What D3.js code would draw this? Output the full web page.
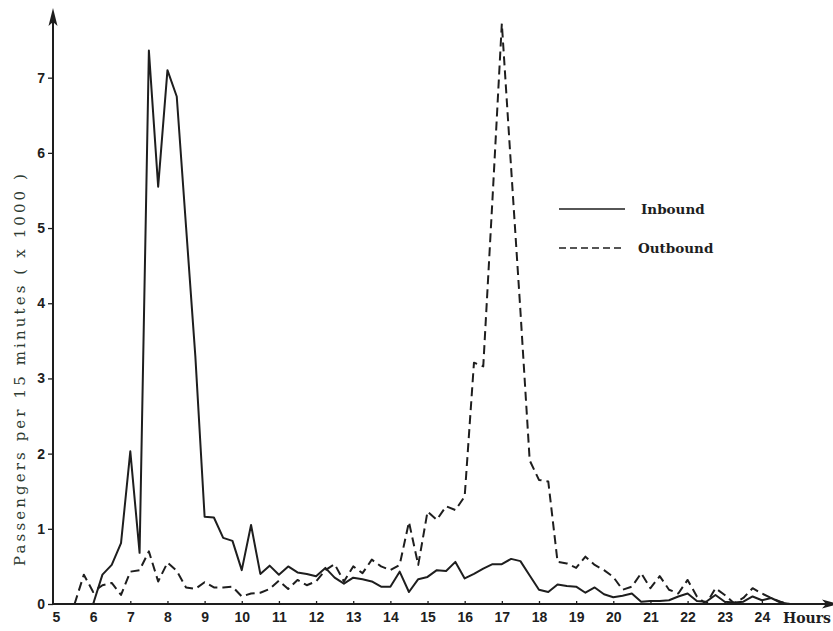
<!DOCTYPE html>
<html>
<head>
<meta charset="utf-8">
<script src="https://cdn.jsdelivr.net/npm/d3@7/dist/d3.min.js"></script>
<style>
  html, body { margin: 0; padding: 0; background: #fff; }
  svg { display: block; }
</style>
</head>
<body>
<svg id="chart" width="833" height="631"></svg>
<script>
// ---- data (quarter-hour samples, passengers per 15 min in thousands) ----
const startHour = 5.5;
const stepHour = 0.25;
const inbound = [
  null, null, 0, 0.39, 0.52, 0.81, 2.03, 0.68, 7.36, 5.55,
  7.10, 6.75, 5.02, 3.30, 1.16, 1.15, 0.88, 0.84, 0.45, 1.05,
  0.40, 0.51, 0.39, 0.50, 0.42, 0.40, 0.37, 0.48, 0.35, 0.27,
  0.35, 0.33, 0.30, 0.23, 0.23, 0.43, 0.16, 0.33, 0.36, 0.45,
  0.44, 0.56, 0.34, 0.40, 0.47, 0.53, 0.53, 0.60, 0.57, 0.38,
  0.19, 0.16, 0.26, 0.24, 0.23, 0.15, 0.22, 0.13, 0.09, 0.11,
  0.14, 0.03, 0.04, 0.04, 0.05, 0.10, 0.14, 0.04, 0.03, 0.12,
  0.03, 0.02, 0.03, 0.10, 0.05, 0.08, 0.02, 0
];
const outbound = [
  0, 0.39, 0.16, 0.25, 0.28, 0.12, 0.43, 0.45, 0.70, 0.30,
  0.55, 0.44, 0.22, 0.20, 0.29, 0.22, 0.22, 0.23, 0.10, 0.14,
  0.15, 0.20, 0.31, 0.20, 0.32, 0.25, 0.30, 0.45, 0.53, 0.30,
  0.50, 0.41, 0.59, 0.50, 0.45, 0.52, 1.09, 0.52, 1.23, 1.12,
  1.30, 1.25, 1.43, 3.21, 3.16, 5.40, 7.72, 5.80, 3.90, 1.91,
  1.65, 1.63, 0.56, 0.54, 0.48, 0.63, 0.52, 0.45, 0.36, 0.19,
  0.23, 0.41, 0.21, 0.37, 0.19, 0.14, 0.32, 0.10, 0.00, 0.21,
  0.12, 0.01, 0.08, 0.21, 0.14, 0.08, 0.03, 0
];
const xTicks = [5, 6, 7, 8, 9, 10, 11, 12, 13, 14, 15, 16, 17, 18, 19, 20, 21, 22, 23, 24];
const yTicks = [0, 1, 2, 3, 4, 5, 6, 7];
const seriesNames = ["Inbound", "Outbound"];
const yTitle = "Passengers  per 15 minutes  ( x 1000 )";
const xTitle = "Hours";

// ---- layout ----
const svg = d3.select("#chart");
const axisX0 = 53, axisY0 = 604;
const x = d3.scaleLinear().domain([5, 24]).range([56, 761.9]);
const y = d3.scaleLinear().domain([0, 7.9]).range([axisY0, 10]);
const ink = "#1e1e1e";

const hourOf = i => startHour + i * stepHour;

// y axis line with arrow
svg.append("line").attr("x1", axisX0).attr("x2", axisX0)
  .attr("y1", axisY0).attr("y2", 22)
  .attr("stroke", ink).attr("stroke-width", 2);
svg.append("path").attr("d", `M${axisX0},8 L${axisX0 + 4.5},26 L${axisX0},22 L${axisX0 - 4.5},26 Z`).attr("fill", ink);

// x axis line with arrow (cut at right edge)
svg.append("line").attr("x1", axisX0).attr("x2", 826)
  .attr("y1", axisY0).attr("y2", axisY0)
  .attr("stroke", ink).attr("stroke-width", 2);
svg.append("path").attr("d", `M838,${axisY0} L822,${axisY0 - 4.5} L826,${axisY0} L822,${axisY0 + 4.5} Z`).attr("fill", ink);

// y axis ticks via d3 axis
const yAxis = d3.axisLeft(y).tickValues(yTicks).tickSize(5).tickSizeOuter(0).tickPadding(3)
  .tickFormat(d3.format("d"));
const gy = svg.append("g").attr("transform", `translate(${axisX0},0)`).call(yAxis);
gy.select(".domain").remove();
gy.selectAll(".tick line").attr("stroke", ink).attr("stroke-width", 1.3);
gy.selectAll(".tick text")
  .attr("fill", ink)
  .style("font-family", "'Liberation Sans', Arial, sans-serif")
  .style("font-weight", "bold").style("font-size", "14px");

// x axis ticks via d3 axis
const xAxis = d3.axisBottom(x).tickValues(xTicks).tickSize(3).tickSizeOuter(0).tickPadding(5)
  .tickFormat(d3.format("d"));
const gx = svg.append("g").attr("transform", `translate(0,${axisY0})`).call(xAxis);
gx.select(".domain").remove();
gx.selectAll(".tick line").attr("stroke", ink).attr("stroke-width", 1.3)
  .attr("y1", -3).attr("y2", 1);
gx.selectAll(".tick text")
  .attr("fill", ink)
  .style("font-family", "'Liberation Sans', Arial, sans-serif")
  .style("font-weight", "bold").style("font-size", "14px");
gx.selectAll(".tick").filter(d => d === 5).select("line").remove();

// x title
svg.append("text").attr("x", 783).attr("y", 623)
  .attr("fill", ink)
  .style("font-family", "'DejaVu Serif', 'Liberation Serif', serif")
  .style("font-weight", "bold").style("font-size", "14px")
  .text(xTitle);

// y title
svg.append("text")
  .attr("transform", "translate(25,370) rotate(-90)")
  .attr("text-anchor", "middle")
  .attr("fill", "#2c3a30")
  .attr("textLength", 392).attr("lengthAdjust", "spacing")
  .style("font-family", "'DejaVu Serif', 'Liberation Serif', serif")
  .style("font-size", "15px")
  .text(yTitle);

// lines
const line = d3.line()
  .defined(d => d != null)
  .x((d, i) => x(hourOf(i)))
  .y(d => y(d));

svg.append("path").datum(inbound)
  .attr("fill", "none").attr("stroke", ink).attr("stroke-width", 2)
  .attr("stroke-linejoin", "round")
  .attr("d", line);

svg.append("path").datum(outbound)
  .attr("fill", "none").attr("stroke", ink).attr("stroke-width", 2)
  .attr("stroke-dasharray", "9,5")
  .attr("stroke-linejoin", "round")
  .attr("d", line);

// legend
const legend = svg.append("g");
const legendRows = [
  { name: seriesNames[0], y: 209, dash: null, tx: 641 },
  { name: seriesNames[1], y: 248, dash: "7,4", tx: 638 }
];
legendRows.forEach(r => {
  legend.append("line").attr("x1", 559).attr("x2", 625)
    .attr("y1", r.y).attr("y2", r.y)
    .attr("stroke", ink).attr("stroke-width", 1.6)
    .attr("stroke-dasharray", r.dash);
  legend.append("text").attr("x", r.tx).attr("y", r.y + 5)
    .attr("fill", ink)
    .style("font-family", "'DejaVu Serif', 'Liberation Serif', serif")
    .style("font-weight", "bold").style("font-size", "13.5px")
    .text(r.name);
});
</script>
</body>
</html>
